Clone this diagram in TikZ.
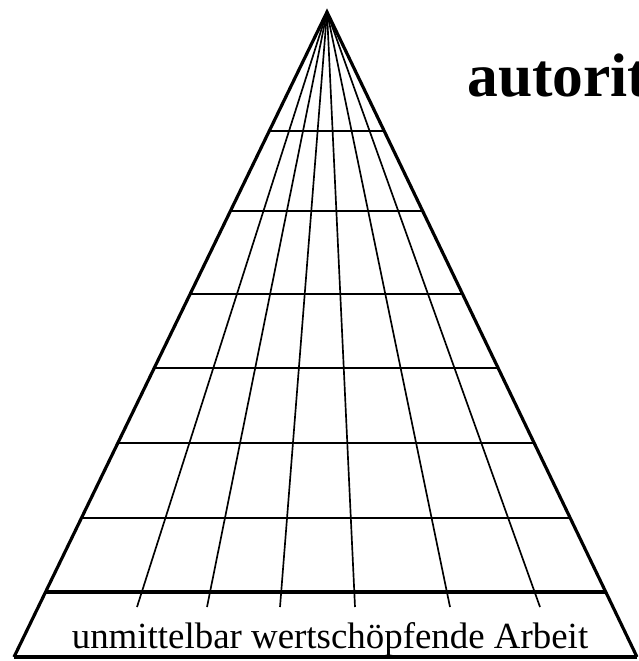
\documentclass[tikz,border=0pt]{standalone}
\usepackage{fontspec}
\setmainfont{Liberation Serif}
\usetikzlibrary{calc}

\begin{document}
\begin{tikzpicture}[
        x=0.02cm, y=-0.02cm,
        outline/.style={line width=1.8pt, line join=miter},
        rung/.style={line width=1.1pt},
        band/.style={line width=2.1pt},
        ray/.style={line width=0.95pt},
        title/.style={font=\bfseries\fontsize{35}{40}\selectfont, inner sep=0pt, anchor=base west},
        lab/.style={font=\fontsize{21}{24}\selectfont, inner sep=0pt, anchor=base}
    ]
        \useasboundingbox (0,0) rectangle (638,661);
        \clip (0,0) rectangle (638,661);

        \coordinate (top) at (327,12);
        \coordinate (bl) at (14,657);
        \coordinate (br) at (637,657);

        % rays from the apex
        \foreach \x in {137,207,280,355,450,540}
            \draw[ray] (top) -- (\x,607);

        % horizontal rungs
        \foreach \y in {131,211,294,368,443,518}
            \draw[rung] ($(top)!{(\y-12)/645}!(bl)$) -- ($(top)!{(\y-12)/645}!(br)$);

        \draw[band] ($(top)!{580/645}!(bl)$) -- ($(top)!{580/645}!(br)$);
        \draw[outline] (bl) -- (top) -- (br);
        \draw[band] (bl) -- (br);

        \node[title] (autor) at (467,97) {autorit};
        \node[lab] (arbeit) at (330,648) {unmittelbar wertschöpfende Arbeit};
    \end{tikzpicture}
\end{document}
